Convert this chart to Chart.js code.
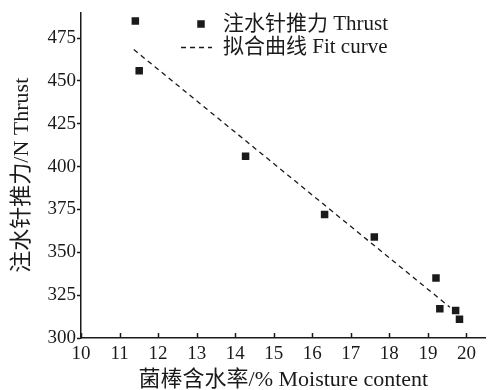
<!DOCTYPE html>
<html>
<head>
<meta charset="utf-8">
<script src="https://cdn.jsdelivr.net/npm/chart.js@4/dist/chart.umd.min.js"></script>
<style>
html,body{margin:0;padding:0;background:#fff;}
#wrap{width:491px;height:390px;position:relative;}
</style>
</head>
<body>
<div id="wrap"><canvas id="c" width="491" height="390"></canvas></div>
<script>
// Data
const moisture = [11.41, 11.51, 14.27, 16.32, 17.61, 19.21, 19.31, 19.72, 19.82];
const thrust   = [485, 456, 406, 372, 359, 335, 317, 316, 311];
const fitX = [11.37, 19.57];
const fitY = [468.3, 318];
const xTicks = [10, 11, 12, 13, 14, 15, 16, 17, 18, 19, 20];
const yTicks = [300, 325, 350, 375, 400, 425, 450, 475];
const legendLabels = ['注水针推力 Thrust', '拟合曲线 Fit curve'];
const xTitle = '菌棒含水率/% Moisture content';
const yTitle = '注水针推力/N Thrust';

const FONT = "'Liberation Serif', 'Noto Sans CJK SC', serif";
const INK = '#1a1a1a';

const scatterData = moisture.map((x, i) => ({x, y: thrust[i]}));
const fitData = fitX.map((x, i) => ({x, y: fitY[i]}));

const insideXTicks = {
  id: 'insideXTicks',
  afterDatasetsDraw(chart) {
    const {ctx, scales: {x}, chartArea} = chart;
    ctx.save();
    ctx.strokeStyle = INK;
    ctx.lineWidth = 1.5;
    xTicks.forEach(v => {
      const px = Math.round(x.getPixelForValue(v)) + 0.5;
      ctx.beginPath();
      ctx.moveTo(px, chartArea.bottom);
      ctx.lineTo(px, chartArea.bottom - 5);
      ctx.stroke();
    });
    ctx.restore();
  }
};

const customLegend = {
  id: 'customLegend',
  afterDraw(chart) {
    const {ctx} = chart;
    ctx.save();
    ctx.font = "21px " + FONT;
    ctx.fillStyle = INK;
    ctx.textBaseline = 'middle';
    ctx.textAlign = 'left';
    const s = 7.5;
    ctx.fillRect(201 - s/2, 24 - s/2, s, s);
    ctx.fillText(legendLabels[0], 223, 24);
    ctx.strokeStyle = INK;
    ctx.lineWidth = 1.3;
    ctx.setLineDash([5, 4]);
    ctx.beginPath();
    ctx.moveTo(181, 47.5);
    ctx.lineTo(212, 47.5);
    ctx.stroke();
    ctx.setLineDash([]);
    ctx.fillText(legendLabels[1], 223, 47);
    ctx.restore();
  }
};

new Chart(document.getElementById('c'), {
  type: 'scatter',
  data: {
    datasets: [
      {
        label: legendLabels[0],
        data: scatterData,
        pointStyle: 'rect',
        pointRadius: 5.3,
        pointHoverRadius: 5.3,
        backgroundColor: INK,
        borderColor: INK,
        borderWidth: 0
      },
      {
        type: 'line',
        label: legendLabels[1],
        data: fitData,
        borderColor: INK,
        borderWidth: 1.3,
        borderDash: [5, 4],
        pointRadius: 0,
        fill: false
      }
    ]
  },
  options: {
    responsive: false,
    animation: false,
    events: [],
    layout: {padding: {top: 9, right: 1, left: 0, bottom: 0}},
    plugins: {legend: {display: false}, tooltip: {enabled: false}},
    scales: {
      x: {
        type: 'linear',
        min: 10, max: 20.5,
        afterFit(s) { s.height = 52; },
        afterBuildTicks(s) { s.ticks = xTicks.map(v => ({value: v})); },
        ticks: {font: {family: FONT, size: 19}, color: INK, padding: 5, includeBounds: false, maxRotation: 0, autoSkip: false},
        grid: {display: true, drawOnChartArea: false, drawTicks: false},
        border: {display: true, color: INK, width: 1.5},
        title: {display: true, text: xTitle, font: {family: FONT, size: 22, lineHeight: 1.1}, color: INK, padding: {top: 0, bottom: -2}}
      },
      y: {
        min: 300, max: 490,
        afterFit(s) { s.width = 81; },
        afterBuildTicks(s) { s.ticks = yTicks.map(v => ({value: v})); },
        ticks: {font: {family: FONT, size: 19}, color: INK, padding: 1, includeBounds: false, autoSkip: false},
        grid: {display: true, drawOnChartArea: false, drawTicks: true, tickLength: 4, color: INK, tickWidth: 1.5},
        border: {display: true, color: INK, width: 1.5},
        title: {display: true, text: yTitle, font: {family: FONT, size: 22, lineHeight: 1.1}, color: INK, padding: {top: 10, bottom: 0}}
      }
    }
  },
  plugins: [insideXTicks, customLegend]
});
</script>
</body>
</html>
